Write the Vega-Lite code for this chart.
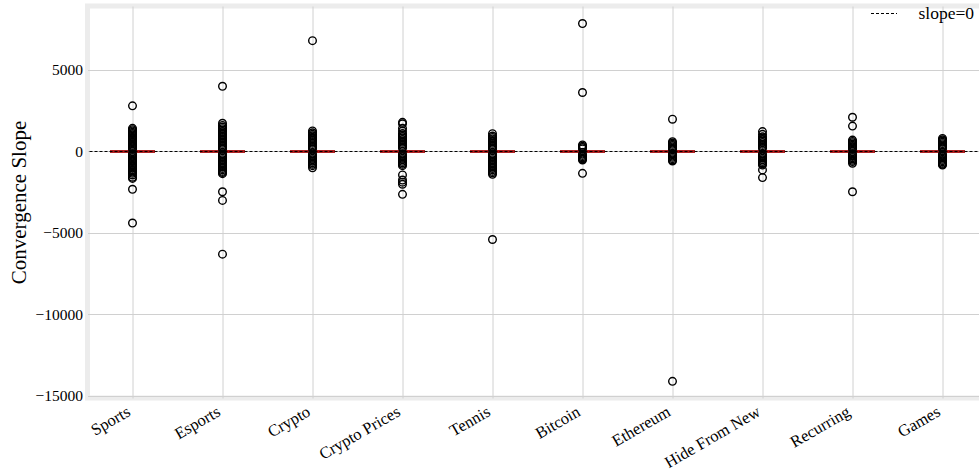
{
  "$schema": "https://vega.github.io/schema/vega-lite/v6.json",
  "autosize": "none",
  "padding": {"left": 87.5, "top": 6, "right": 0, "bottom": 90},
  "width": 900,
  "height": 392,
  "background": "white",
  "config": {
    "font": "Liberation Serif",
    "view": {"stroke": "#ececec", "strokeWidth": 5},
    "axis": {"labelFont": "Liberation Serif", "titleFont": "Liberation Serif", "labelColor": "black", "titleColor": "black", "gridColor": "#d0d0d0", "gridWidth": 1, "domain": false, "ticks": false}
  },
  "datasets": {
    "outliers": [
      {"cat": "Sports", "v": 2800}, {"cat": "Sports", "v": 1420}, {"cat": "Sports", "v": 1340}, {"cat": "Sports", "v": 1260}, {"cat": "Sports", "v": 1180}, {"cat": "Sports", "v": 1100}, {"cat": "Sports", "v": 1020}, {"cat": "Sports", "v": 940}, {"cat": "Sports", "v": 860}, {"cat": "Sports", "v": 780}, {"cat": "Sports", "v": 700}, {"cat": "Sports", "v": 620}, {"cat": "Sports", "v": 540}, {"cat": "Sports", "v": 460}, {"cat": "Sports", "v": 380}, {"cat": "Sports", "v": 300}, {"cat": "Sports", "v": 220}, {"cat": "Sports", "v": 140}, {"cat": "Sports", "v": -140}, {"cat": "Sports", "v": -220}, {"cat": "Sports", "v": -300}, {"cat": "Sports", "v": -380}, {"cat": "Sports", "v": -460}, {"cat": "Sports", "v": -540}, {"cat": "Sports", "v": -620}, {"cat": "Sports", "v": -700}, {"cat": "Sports", "v": -780}, {"cat": "Sports", "v": -860}, {"cat": "Sports", "v": -940}, {"cat": "Sports", "v": -1020}, {"cat": "Sports", "v": -1100}, {"cat": "Sports", "v": -1180}, {"cat": "Sports", "v": -1260}, {"cat": "Sports", "v": -1340}, {"cat": "Sports", "v": -1440}, {"cat": "Sports", "v": -1580}, {"cat": "Sports", "v": -1650}, {"cat": "Sports", "v": -2320}, {"cat": "Sports", "v": -4390},
      {"cat": "Esports", "v": 4000}, {"cat": "Esports", "v": 1730}, {"cat": "Esports", "v": 1600}, {"cat": "Esports", "v": 1500}, {"cat": "Esports", "v": 1400}, {"cat": "Esports", "v": 1310}, {"cat": "Esports", "v": 1220}, {"cat": "Esports", "v": 1130}, {"cat": "Esports", "v": 1040}, {"cat": "Esports", "v": 950}, {"cat": "Esports", "v": 860}, {"cat": "Esports", "v": 770}, {"cat": "Esports", "v": 680}, {"cat": "Esports", "v": 590}, {"cat": "Esports", "v": 500}, {"cat": "Esports", "v": 410}, {"cat": "Esports", "v": 320}, {"cat": "Esports", "v": 230}, {"cat": "Esports", "v": 140}, {"cat": "Esports", "v": -140}, {"cat": "Esports", "v": -230}, {"cat": "Esports", "v": -320}, {"cat": "Esports", "v": -410}, {"cat": "Esports", "v": -500}, {"cat": "Esports", "v": -590}, {"cat": "Esports", "v": -680}, {"cat": "Esports", "v": -770}, {"cat": "Esports", "v": -860}, {"cat": "Esports", "v": -950}, {"cat": "Esports", "v": -1040}, {"cat": "Esports", "v": -1130}, {"cat": "Esports", "v": -1220}, {"cat": "Esports", "v": -1290}, {"cat": "Esports", "v": -1360}, {"cat": "Esports", "v": -2470}, {"cat": "Esports", "v": -3000}, {"cat": "Esports", "v": -6300},
      {"cat": "Crypto", "v": 6800}, {"cat": "Crypto", "v": 1260}, {"cat": "Crypto", "v": 1150}, {"cat": "Crypto", "v": 1050}, {"cat": "Crypto", "v": 960}, {"cat": "Crypto", "v": 870}, {"cat": "Crypto", "v": 780}, {"cat": "Crypto", "v": 690}, {"cat": "Crypto", "v": 600}, {"cat": "Crypto", "v": 510}, {"cat": "Crypto", "v": 420}, {"cat": "Crypto", "v": 330}, {"cat": "Crypto", "v": 240}, {"cat": "Crypto", "v": 150}, {"cat": "Crypto", "v": -150}, {"cat": "Crypto", "v": -240}, {"cat": "Crypto", "v": -330}, {"cat": "Crypto", "v": -420}, {"cat": "Crypto", "v": -510}, {"cat": "Crypto", "v": -600}, {"cat": "Crypto", "v": -690}, {"cat": "Crypto", "v": -780}, {"cat": "Crypto", "v": -870}, {"cat": "Crypto", "v": -1000},
      {"cat": "Crypto Prices", "v": 1790}, {"cat": "Crypto Prices", "v": 1700}, {"cat": "Crypto Prices", "v": 1420}, {"cat": "Crypto Prices", "v": 1250}, {"cat": "Crypto Prices", "v": 1100}, {"cat": "Crypto Prices", "v": 1010}, {"cat": "Crypto Prices", "v": 920}, {"cat": "Crypto Prices", "v": 830}, {"cat": "Crypto Prices", "v": 740}, {"cat": "Crypto Prices", "v": 650}, {"cat": "Crypto Prices", "v": 560}, {"cat": "Crypto Prices", "v": 470}, {"cat": "Crypto Prices", "v": 380}, {"cat": "Crypto Prices", "v": 290}, {"cat": "Crypto Prices", "v": 200}, {"cat": "Crypto Prices", "v": -150}, {"cat": "Crypto Prices", "v": -240}, {"cat": "Crypto Prices", "v": -330}, {"cat": "Crypto Prices", "v": -420}, {"cat": "Crypto Prices", "v": -510}, {"cat": "Crypto Prices", "v": -600}, {"cat": "Crypto Prices", "v": -690}, {"cat": "Crypto Prices", "v": -780}, {"cat": "Crypto Prices", "v": -870}, {"cat": "Crypto Prices", "v": -1440}, {"cat": "Crypto Prices", "v": -1750}, {"cat": "Crypto Prices", "v": -1880}, {"cat": "Crypto Prices", "v": -2010}, {"cat": "Crypto Prices", "v": -2630},
      {"cat": "Tennis", "v": 1090}, {"cat": "Tennis", "v": 950}, {"cat": "Tennis", "v": 860}, {"cat": "Tennis", "v": 770}, {"cat": "Tennis", "v": 680}, {"cat": "Tennis", "v": 590}, {"cat": "Tennis", "v": 500}, {"cat": "Tennis", "v": 410}, {"cat": "Tennis", "v": 320}, {"cat": "Tennis", "v": 230}, {"cat": "Tennis", "v": 140}, {"cat": "Tennis", "v": -140}, {"cat": "Tennis", "v": -230}, {"cat": "Tennis", "v": -320}, {"cat": "Tennis", "v": -410}, {"cat": "Tennis", "v": -500}, {"cat": "Tennis", "v": -590}, {"cat": "Tennis", "v": -680}, {"cat": "Tennis", "v": -770}, {"cat": "Tennis", "v": -860}, {"cat": "Tennis", "v": -950}, {"cat": "Tennis", "v": -1040}, {"cat": "Tennis", "v": -1130}, {"cat": "Tennis", "v": -1220}, {"cat": "Tennis", "v": -1310}, {"cat": "Tennis", "v": -1400}, {"cat": "Tennis", "v": -5400},
      {"cat": "Bitcoin", "v": 7850}, {"cat": "Bitcoin", "v": 3620}, {"cat": "Bitcoin", "v": 400}, {"cat": "Bitcoin", "v": 320}, {"cat": "Bitcoin", "v": 240}, {"cat": "Bitcoin", "v": 160}, {"cat": "Bitcoin", "v": -160}, {"cat": "Bitcoin", "v": -240}, {"cat": "Bitcoin", "v": -320}, {"cat": "Bitcoin", "v": -400}, {"cat": "Bitcoin", "v": -460}, {"cat": "Bitcoin", "v": -520}, {"cat": "Bitcoin", "v": -1340},
      {"cat": "Ethereum", "v": 1980}, {"cat": "Ethereum", "v": 600}, {"cat": "Ethereum", "v": 520}, {"cat": "Ethereum", "v": 440}, {"cat": "Ethereum", "v": 360}, {"cat": "Ethereum", "v": 280}, {"cat": "Ethereum", "v": 200}, {"cat": "Ethereum", "v": 130}, {"cat": "Ethereum", "v": -130}, {"cat": "Ethereum", "v": -200}, {"cat": "Ethereum", "v": -280}, {"cat": "Ethereum", "v": -360}, {"cat": "Ethereum", "v": -440}, {"cat": "Ethereum", "v": -520}, {"cat": "Ethereum", "v": -580}, {"cat": "Ethereum", "v": -14100},
      {"cat": "Hide From New", "v": 1220}, {"cat": "Hide From New", "v": 1050}, {"cat": "Hide From New", "v": 900}, {"cat": "Hide From New", "v": 810}, {"cat": "Hide From New", "v": 720}, {"cat": "Hide From New", "v": 630}, {"cat": "Hide From New", "v": 540}, {"cat": "Hide From New", "v": 450}, {"cat": "Hide From New", "v": 360}, {"cat": "Hide From New", "v": 270}, {"cat": "Hide From New", "v": 180}, {"cat": "Hide From New", "v": -150}, {"cat": "Hide From New", "v": -240}, {"cat": "Hide From New", "v": -330}, {"cat": "Hide From New", "v": -420}, {"cat": "Hide From New", "v": -510}, {"cat": "Hide From New", "v": -600}, {"cat": "Hide From New", "v": -690}, {"cat": "Hide From New", "v": -760}, {"cat": "Hide From New", "v": -830}, {"cat": "Hide From New", "v": -1130}, {"cat": "Hide From New", "v": -1600},
      {"cat": "Recurring", "v": 2100}, {"cat": "Recurring", "v": 1560}, {"cat": "Recurring", "v": 700}, {"cat": "Recurring", "v": 620}, {"cat": "Recurring", "v": 540}, {"cat": "Recurring", "v": 460}, {"cat": "Recurring", "v": 380}, {"cat": "Recurring", "v": 300}, {"cat": "Recurring", "v": 220}, {"cat": "Recurring", "v": 140}, {"cat": "Recurring", "v": -140}, {"cat": "Recurring", "v": -220}, {"cat": "Recurring", "v": -300}, {"cat": "Recurring", "v": -380}, {"cat": "Recurring", "v": -460}, {"cat": "Recurring", "v": -540}, {"cat": "Recurring", "v": -620}, {"cat": "Recurring", "v": -720}, {"cat": "Recurring", "v": -2470},
      {"cat": "Games", "v": 800}, {"cat": "Games", "v": 720}, {"cat": "Games", "v": 640}, {"cat": "Games", "v": 560}, {"cat": "Games", "v": 480}, {"cat": "Games", "v": 400}, {"cat": "Games", "v": 320}, {"cat": "Games", "v": 240}, {"cat": "Games", "v": 160}, {"cat": "Games", "v": -160}, {"cat": "Games", "v": -240}, {"cat": "Games", "v": -320}, {"cat": "Games", "v": -400}, {"cat": "Games", "v": -480}, {"cat": "Games", "v": -560}, {"cat": "Games", "v": -640}, {"cat": "Games", "v": -720}, {"cat": "Games", "v": -780}, {"cat": "Games", "v": -830}
    ],
    "stats": [
      {"cat": "Sports", "median": 0}, {"cat": "Esports", "median": 0}, {"cat": "Crypto", "median": 0}, {"cat": "Crypto Prices", "median": 0}, {"cat": "Tennis", "median": 0},
      {"cat": "Bitcoin", "median": 0}, {"cat": "Ethereum", "median": 0}, {"cat": "Hide From New", "median": 0}, {"cat": "Recurring", "median": 0}, {"cat": "Games", "median": 0}
    ]
  },
  "encoding": {
    "x": {
      "field": "cat", "type": "nominal",
      "sort": ["Sports", "Esports", "Crypto", "Crypto Prices", "Tennis", "Bitcoin", "Ethereum", "Hide From New", "Recurring", "Games"],
      "scale": {"type": "point", "padding": 0.5},
      "axis": {"title": null, "labelAngle": -30, "labelAlign": "right", "labelBaseline": "bottom", "labelFontSize": 16.5, "labelPadding": 19, "grid": true}
    }
  },
  "layer": [
    {
      "data": {"name": "stats"},
      "mark": {"type": "tick", "color": "#3a0000", "thickness": 3, "size": 45},
      "encoding": {
        "y": {"field": "median", "type": "quantitative", "scale": {"domain": [-15123, 8926], "nice": false, "zero": false},
          "axis": {"title": "Convergence Slope", "titleFontSize": 21, "titleFontWeight": "normal", "titlePadding": 6, "labelFontSize": 15.5, "labelPadding": 5, "values": [-15000, -10000, -5000, 0, 5000], "labelExpr": "replace(format(datum.value, 'd'), '-', '\u2212')", "grid": true}}
      }
    },
    {
      "data": {"name": "stats"},
      "mark": {"type": "tick", "color": "#e00000", "thickness": 2.4, "size": 45},
      "encoding": {"y": {"field": "median", "type": "quantitative"}}
    },
    {
      "data": {"values": [{"lbl": "slope=0"}]},
      "mark": {"type": "rule", "strokeDash": [3, 2], "strokeWidth": 1},
      "encoding": {
        "x": null,
        "y": {"datum": 0, "type": "quantitative"},
        "color": {"field": "lbl", "type": "nominal", "scale": {"range": ["black"]},
          "legend": {"title": null, "orient": "none", "legendX": 783, "legendY": -6, "symbolType": "stroke", "symbolDash": [3, 2], "symbolStrokeWidth": 1, "symbolSize": 676, "labelFont": "Liberation Serif", "labelFontSize": 17.5, "labelOffset": 21, "padding": 0}}
      }
    },
    {
      "data": {"name": "outliers"},
      "mark": {"type": "point", "shape": "circle", "filled": false, "stroke": "black", "strokeWidth": 1.4, "size": 58, "opacity": 1},
      "encoding": {"y": {"field": "v", "type": "quantitative"}}
    }
  ]
}
